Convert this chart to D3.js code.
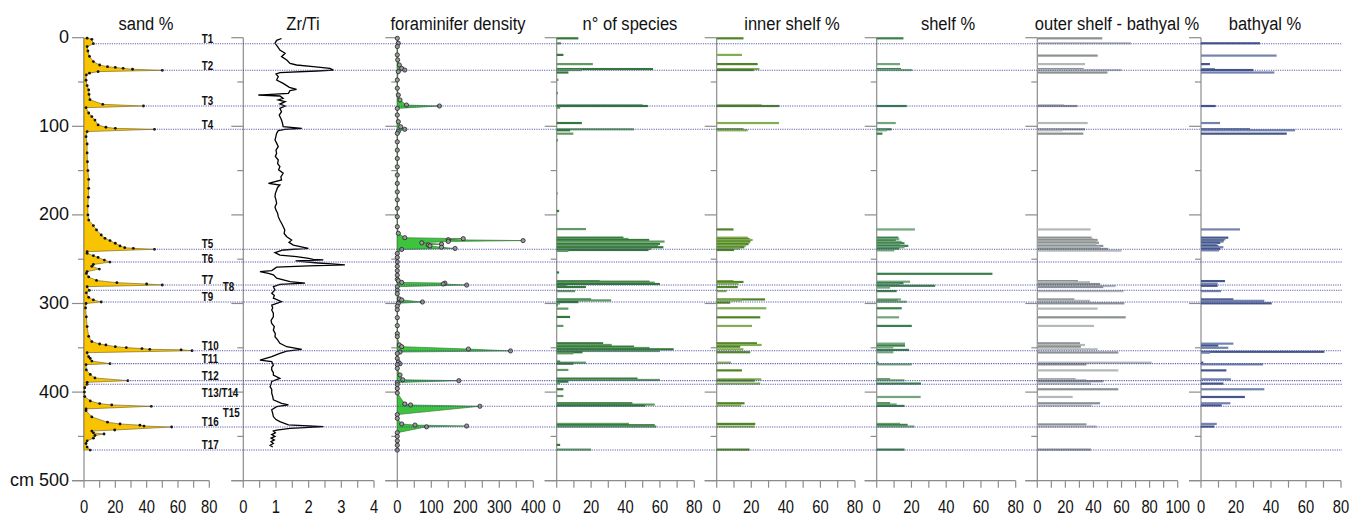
<!DOCTYPE html>
<html><head><meta charset="utf-8">
<script src="https://cdn.jsdelivr.net/npm/d3@7"></script>
<style>
body{margin:0;background:#fff}
svg{display:block}
text{font-family:"Liberation Sans",Arial,sans-serif;fill:#111}
</style>
</head><body>
<svg id="c" width="1354" height="516"></svg>
<script>
// ---------------- DATA (depth in cm, value) ----------------
const depthTicks = [0,100,200,300,400,500];
const tephraNames = ["T1","T2","T3","T4","T5","T6","T7","T8","T9","T10","T11","T12","T13/T14","T15","T16","T17"];
const tephraDepths = [6.8,36.8,77.1,103.4,238.8,253.2,279.1,285.1,298.3,353.3,367.9,387.1,391.2,416,439.4,465.4];

const sand = [[0.5,2],[1.8,5],[6.8,6],[10,2],[15,2.5],[21,3.5],[27,6],[30.8,10],[32.7,15],[33.6,20],[34.6,25],[35.6,31],[36.8,50],[38.3,9],[40,3.5],[42,1.5],[48,1.3],[54,2],[59,3],[64,3.2],[70,3.8],[75.2,12],[77.1,38],[79,1.3],[85,3],[89,5],[93,7],[98.5,9],[101.1,14],[102.3,20],[103.4,45],[106,2],[111.7,1.3],[120,2],[130,2],[140,2.2],[150,2.5],[160,3],[170,3],[180,2.8],[190,2.5],[200,2.5],[205.8,3],[212,6],[217,8],[222.7,11],[226.4,13.4],[229,16.6],[232,20],[235,23],[237,26],[237.7,31.5],[238.8,45],[241.5,2],[243.4,2],[246,6],[248,9],[251,13],[253.2,16.6],[256,6],[258,5],[261.1,9.8],[264,2],[266,1.5],[270,3],[274,8],[276.5,21],[278,40],[279.1,50],[281,2],[285.1,3.4],[288,1.5],[293,3],[296,6],[298.3,11],[300,1.3],[305,1],[315,1.5],[326,2],[337,3],[343,5],[345.7,10],[346.8,14],[348.7,20],[349.8,27],[350.9,37],[351.7,42],[352.3,62],[353.3,69],[355.5,2],[360,3],[362,4],[365,5],[367.9,16.6],[369,1.3],[375,1.5],[380,4],[384,7],[387.1,28],[389,2],[391.2,2],[395,0.5],[400,0.3],[405,0.5],[410,4],[413,10],[414.5,17.7],[416,43],[419,1.3],[421,1.3],[428,5],[434,15],[436,23],[437.3,35.7],[438.3,38.3],[439.4,56],[442.8,19.6],[444,5],[446,6],[447.3,12.8],[449,7],[452,6],[455,2],[458,1.3],[462,2],[465.4,4]];

const zrti = [[0.9,1.17],[3,1.02],[6.3,0.97],[10,1.05],[13.9,1.12],[17.6,1.28],[21.4,1.17],[25.2,1.33],[29,1.43],[30.8,1.63],[32.7,2.14],[34.6,2.65],[36.5,2.76],[37.6,2.24],[39.5,1.12],[41,1.0],[44,1.07],[47.7,1.02],[51.5,1.22],[56,1.41],[58.3,1.63],[59.8,1.43],[62.8,1.38],[64.7,0.46],[65.8,1.12],[68.5,1.22],[70.3,1.07],[72.2,1.28],[74.9,1.12],[77.1,1.28],[79.8,1.12],[83.5,1.17],[87.3,1.10],[92.9,1.17],[96.7,1.2],[100.5,1.22],[102.3,1.79],[103.4,1.27],[104.9,1.07],[107.9,1.02],[111,1.0],[115.5,0.97],[119,1.02],[123,1.07],[127,1.0],[130.5,1.02],[134,0.98],[138,1.07],[142,1.05],[145.6,1.12],[149,1.08],[153,1.22],[157,1.15],[160.6,1.17],[164.4,0.77],[166.3,1.12],[169,1.05],[172,1.02],[176,0.98],[179.5,0.97],[183,1.0],[187,1.02],[191,0.97],[194.6,1.0],[198,1.05],[202,1.07],[206,1.12],[209.5,1.17],[213,1.22],[217,1.27],[221,1.25],[224.6,1.33],[228.4,1.48],[231,1.4],[234,1.53],[237.8,1.99],[239.6,1.22],[242.6,0.97],[245.3,1.12],[247.1,1.63],[249,2.0],[250.1,2.14],[250.8,2.45],[252,1.6],[254,2.2],[256.5,3.11],[257.5,2.0],[259,1.02],[262.8,0.87],[264,0.51],[265.9,0.77],[267.7,0.92],[271.5,1.02],[275.3,1.43],[277,1.89],[278.3,1.12],[281,0.92],[284.7,0.97],[288.5,0.87],[291,0.95],[294,0.92],[298,1.17],[301.8,0.87],[305,0.9],[307.4,0.87],[311,0.92],[315,0.92],[319,0.85],[322.5,0.87],[326,0.95],[330,0.92],[334,0.98],[337.5,0.97],[341,1.05],[345,1.12],[348.8,1.33],[351.8,1.79],[353.7,1.33],[356.3,1.12],[360,0.87],[363.8,0.51],[365.7,0.87],[369.5,0.92],[372,0.87],[375,0.87],[378,0.92],[380.7,0.92],[384.5,1.12],[388,0.87],[391,0.85],[393.8,0.82],[397,0.87],[401.3,0.87],[405,0.9],[408.8,0.92],[412.6,1.17],[414.5,1.38],[416.4,1.02],[420,0.87],[424,0.9],[427.6,0.92],[431,1.0],[433.3,1.12],[437,1.38],[439,2.45],[440.9,1.43],[442.8,1.02],[444,0.92],[446,0.98],[448,0.87],[450,0.97],[452,0.85],[454,0.95],[456,0.85],[458,0.92],[460,0.82],[462,0.9]];

const foram = [[0.7,0],[6.3,3],[10,0],[19.4,0],[25,1],[30.8,6],[34.6,13],[36.5,22],[38.3,3],[47.7,0],[57,0],[64.7,3],[70.3,8],[76,27],[77.1,124],[79.8,0],[87.3,0],[94.8,3],[100.5,10],[103.4,22],[106,3],[108,0],[117.5,0],[126.9,0],[136.3,0],[145.7,0],[155,0],[164.5,0],[174,0],[183,0],[192.6,0],[202,0],[213.3,0],[220.8,3],[225.7,22],[226.8,194],[228,150],[229,370],[230,150],[231.5,72],[233,130],[234,91],[235,96],[236.5,130],[237.9,170],[239,13],[243.5,0],[248,0],[253,0],[258,0],[263,0],[268,0],[272.7,0],[274.3,3],[276.2,13],[277,140],[278,135],[279.2,204],[281,0],[285,0],[289,0],[294.8,6],[296,13],[298.3,74],[299.8,3],[303,0],[307,0],[316,0],[325,0],[334,0],[337.4,0],[346.8,6],[348.7,13],[351.4,209],[353.5,333],[354.8,8],[356.5,0],[362,0],[366,3],[368,8],[369,0],[373.2,0],[380.7,8],[386.1,16],[387.1,181],[389.2,0],[391.6,0],[396,0],[401,0],[413.4,22],[414.5,39],[416,243],[425.4,0],[429.6,0],[436,13],[437.2,52],[438.3,204],[439.2,86],[445.8,0],[450,0],[455,0],[460,0],[465.4,0]];

const species = [[0.7,12.6],[6.3,2.5],[19.4,3.9],[29.8,21],[35.4,56],[36.5,14.6],[39.3,6.8],[47.6,1],[62.6,0.6],[76.4,50],[77.1,53],[79,2],[96.3,14.6],[103.4,45],[104.5,7.8],[108.3,9.7],[115.8,0.6],[175.8,0.6],[195.6,1.4],[216,17],[225.7,38.8],[227.2,41.7],[228.3,53.8],[230.1,62.7],[232.7,60],[234.6,59],[236.5,62],[238.4,55],[239.6,53.4],[240.6,6.8],[265,1.4],[274.7,25],[275.4,54],[276.5,57],[278,60],[280.3,5.8],[281.4,17],[286,10.7],[295.4,20],[296.5,31.7],[298.4,12.6],[299.9,2],[302,0.6],[305.8,6.8],[315.2,7.8],[325.3,3.9],[344.9,27],[346.8,32],[348.7,45],[350.2,54],[351.7,68],[353.6,60],[355,15],[356.2,9.7],[365.6,2],[366.8,17],[367.9,9.7],[375,6.8],[384.8,47],[386.3,60],[388.2,6.8],[390,2],[396.8,3.9],[404.4,3.9],[412.6,44],[414.1,57],[415.2,51.5],[435.9,42],[437.4,57],[438.9,58],[459.6,2],[464.9,20]];

const innerShelf = [[0.7,15.5],[19.4,14.6],[29.8,23.7],[35.4,24.7],[36.5,21.4],[76.4,26],[77.1,36.3],[96.3,36],[103.4,15.5],[104.5,17.9],[216.4,9.7],[225.7,18],[227.2,19],[228.3,20.8],[230.1,19.5],[231.4,19],[233,18.4],[234.6,17],[236.5,16],[238,13.6],[239.6,10],[274.7,9.7],[275.7,15.5],[277.6,12.6],[281.4,12.2],[286,5.8],[295.4,28],[296.5,14.6],[299,7.8],[305.4,28.7],[315.6,25.2],[325.3,20.4],[344.9,23.3],[346.8,26],[348.7,13.6],[351.7,15.5],[355,19.4],[366.8,8.3],[375.5,14.6],[385.6,25.8],[387,22],[390.4,25.2],[412.6,16.1],[415,14.2],[435.9,22.3],[438.9,22],[464.9,19]];

const shelf = [[0.7,15.4],[29.8,13.4],[35.4,14],[36.5,20.5],[77.1,17.3],[96.3,11],[103.4,8.6],[104.5,5.8],[108.3,3.3],[216.4,22],[225.7,12.5],[227.5,13],[229,11],[230.5,14.4],[232,16],[233.5,13.5],[235,18.2],[236.5,16],[238,13],[240,10.2],[266.5,66.6],[275.4,19.2],[277,15.4],[278.5,13],[280,33.6],[282,7.7],[286,11.5],[295.4,14],[296.8,12],[298,17.3],[305.4,14.4],[315.6,12.9],[325.3,20.2],[345.3,16.3],[347.5,16.3],[349.5,9.6],[352.4,18.6],[355,9.6],[366.8,1],[368.7,20.2],[385.6,7.7],[386.7,16],[390.4,25.5],[405.5,25.3],[412.6,7.7],[414,11.5],[415.6,16],[435.9,13.4],[437,17.8],[438.9,21.7],[464.9,16]];

const outerShelfBathyal = [[0.7,46.3],[6.3,66.7],[20.2,43],[29.8,34],[35.4,33],[36.5,60],[39.3,50],[76.4,19],[77.1,28.5],[96.3,35.9],[103.4,34],[104.5,18],[108.3,32.8],[216.4,38],[225.7,38.7],[227.5,40],[228.3,43],[230,42],[231.4,43.9],[233,42],[235,47],[236.5,45],[238.4,50.6],[240.3,60],[274.7,29],[276,37.5],[278,44.7],[280.3,55.8],[281.4,47],[286,61.5],[295.4,26.4],[297,37.5],[299.8,62],[305.8,43],[315.6,63],[325.3,40.4],[344.9,30.4],[346.8,34],[348.7,31],[351.7,43],[355.3,57.7],[366.8,81.5],[368.7,35],[375.5,57.7],[385.6,27.3],[386.7,35],[387.7,47],[390.4,38.2],[396.8,57.7],[405.5,25.2],[412.6,44.7],[415.2,38.7],[436.5,35],[438.9,42.3],[464.9,38.2]];

const bathyal = [[6.3,33.7],[20.2,43.2],[29.8,5.1],[35.4,8],[36.5,29.9],[39.3,41.9],[77.1,8.4],[96.3,10.9],[103.4,28],[104.5,53.7],[108.3,49],[216.4,22.3],[225.7,15.6],[227.5,14],[229,13],[230.1,12.8],[231.5,11],[233,9],[235,10],[236.5,12.8],[238.5,11],[240,10.3],[274.7,13.7],[277.6,9.5],[280,9.5],[286,11.4],[295.4,18.5],[297,36.2],[299.8,40.4],[345.3,18.5],[347.5,9.9],[350,15.6],[354.5,70.5],[355.5,5.1],[366.8,1.3],[368.7,35.4],[375.5,14.5],[385.6,17.1],[390.4,12.8],[396.8,36.2],[405.5,25.1],[412.6,16.8],[415,11.8],[435.9,9],[438.9,7.6]];

// ---------------- LAYOUT ----------------
const svg = d3.select("#c");
svg.append("rect").attr("width",1354).attr("height",516).attr("fill","#fff");
const y = d3.scaleLinear().domain([0,500]).range([37.7,480.7]);
const axisColor = "#8c8c8c";

const panels = [
  {id:"sand", title:"sand %", tx:146, range:[84,209.3], domain:[0,80], labels:[0,20,40,60,80], step:10},
  {id:"zrti", title:"Zr/Ti", tx:303, range:[243.3,374], domain:[0,4], labels:[0,1,2,3,4], step:0.5},
  {id:"foram", title:"foraminifer density", tx:458, range:[397.3,533.3], domain:[0,400], labels:[0,100,200,300,400], step:50},
  {id:"species", title:"n° of species", tx:630, range:[556.7,694.3], domain:[0,80], labels:[0,20,40,60,80], step:10},
  {id:"inner", title:"inner shelf %", tx:792, range:[716.7,855], domain:[0,80], labels:[0,20,40,60,80], step:10},
  {id:"shelf", title:"shelf %", tx:948, range:[876.7,1015.7], domain:[0,80], labels:[0,20,40,60,80], step:10},
  {id:"outer", title:"outer shelf - bathyal %", tx:1117, range:[1037.3,1177.7], domain:[0,100], labels:[0,20,40,60,80,100], step:10},
  {id:"bathyal", title:"bathyal %", tx:1265, range:[1201,1341], domain:[0,80], labels:[0,20,40,60,80], step:10}
];
panels.forEach(p => p.x = d3.scaleLinear().domain(p.domain).range(p.range));
const P = Object.fromEntries(panels.map(p=>[p.id,p]));

// axes for each panel
panels.forEach(p => {
  const g = svg.append("g");
  const x0 = p.x(0);
  // vertical axis
  g.append("line").attr("x1",x0).attr("x2",x0).attr("y1",y(0)).attr("y2",y(500))
    .attr("stroke",axisColor).attr("stroke-width",1.2);
  // depth ticks
  d3.range(0,501,50).forEach(d => {
    const major = d % 100 === 0;
    g.append("line").attr("x1",x0-(major?12:6)).attr("x2",x0).attr("y1",y(d)).attr("y2",y(d))
      .attr("stroke",axisColor).attr("stroke-width",1.2);
  });
  // bottom axis
  g.append("line").attr("x1",x0-12).attr("x2",p.range[1]).attr("y1",y(500)).attr("y2",y(500))
    .attr("stroke",axisColor).attr("stroke-width",1.2);
  const nt = Math.round((p.domain[1]-p.domain[0])/p.step);
  d3.range(0,nt+1).forEach(i => {
    const v = p.domain[0]+i*p.step;
    g.append("line").attr("x1",p.x(v)).attr("x2",p.x(v)).attr("y1",y(500)).attr("y2",y(500)+7)
      .attr("stroke",axisColor).attr("stroke-width",1.2);
  });
  p.labels.forEach(v => {
    g.append("text").attr("transform",`translate(${p.x(v)},513) scale(0.82,1)`)
      .attr("text-anchor","middle").attr("font-size",18).text(v);
  });
  // title
  g.append("text").attr("transform",`translate(${p.tx},29.5) scale(0.87,1)`)
    .attr("text-anchor","middle").attr("font-size",19).text(p.title);
});

// depth labels
depthTicks.forEach(d => {
  svg.append("text").attr("x",69).attr("y",y(d)-1).attr("dy","0.36em")
    .attr("text-anchor","end").attr("font-size",18)
    .text(d===500 ? "cm 500" : d);
});

// ---- sand area ----
const sx = P.sand.x;
svg.append("path").datum(sand)
  .attr("d", d3.area().y(d=>y(d[0])).x0(sx(0)).x1(d=>sx(d[1])))
  .attr("fill","#f8c300").attr("stroke","#6b5a20").attr("stroke-width",0.6);
svg.append("g").selectAll("circle").data(sand).join("circle")
  .attr("cx",d=>sx(d[1])).attr("cy",d=>y(d[0])).attr("r",1.4).attr("fill","#111");

// ---- Zr/Ti line ----
const zx = P.zrti.x;
svg.append("path").datum(zrti)
  .attr("d", d3.line().y(d=>y(d[0])).x(d=>zx(d[1])))
  .attr("fill","none").attr("stroke","#000").attr("stroke-width",1.3);

// ---- foram density ----
const fx = P.foram.x;
svg.append("path").datum(foram)
  .attr("d", d3.area().y(d=>y(d[0])).x0(fx(0)).x1(d=>fx(d[1])))
  .attr("fill","#3cc43c").attr("stroke","#2b6b2b").attr("stroke-width",0.6);
svg.append("g").selectAll("circle").data(foram).join("circle")
  .attr("cx",d=>fx(d[1])).attr("cy",d=>y(d[0])).attr("r",2.1)
  .attr("fill","#9a9a9a").attr("stroke","#222").attr("stroke-width",0.8);

// ---- bar panels ----
function bars(data, p, dark, light) {
  svg.append("g").selectAll("rect").data(data).join("rect")
    .attr("x", p.x(0)).attr("y", d=>y(d[0])-1.1)
    .attr("width", d=>Math.max(0.8, p.x(d[1])-p.x(0))).attr("height",2.2)
    .attr("fill",(d,i)=> i%2 ? light : dark);
}
bars(species, P.species, "#33773a", "#5f9a62");
bars(innerShelf, P.inner, "#4f8426", "#82ad55");
bars(shelf, P.shelf, "#3b7f4a", "#73a67c");
bars(outerShelfBathyal, P.outer, "#8b9191", "#b3b8b8");
bars(bathyal, P.bathyal, "#45568a", "#7383ac");

// ---- tephra lines & labels ----
const sandAt = d => {
  const s = sand.find(e => Math.abs(e[0]-d) < 0.05);
  if (s) return s[1];
  const i = d3.bisector(e=>e[0]).left(sand, d);
  const a = sand[Math.max(0,i-1)], b = sand[Math.min(sand.length-1,i)];
  return a[1] + (b[1]-a[1])*((d-a[0])/((b[0]-a[0])||1));
};
tephraDepths.forEach((d,i) => {
  svg.append("line").attr("x1",sx(sandAt(d))).attr("x2",1342)
    .attr("y1",y(d)).attr("y2",y(d))
    .attr("stroke","#4646a0").attr("stroke-width",1.1)
    .attr("stroke-dasharray","1.2,1.1").attr("opacity",0.85);
});
const shifted = {"T8":[21,0.5], "T15":[21,11], "T13/T14":[0,12.5], "T6":[0,0.5], "T9":[0,-1]};
tephraNames.forEach((n,i) => {
  const off = shifted[n] || [0,-0.8];
  svg.append("text")
    .attr("transform",`translate(${201.7+off[0]},${y(tephraDepths[i])+off[1]}) scale(0.82,1)`)
    .attr("font-size",12).attr("font-weight","bold").text(n);
});
</script>
</body></html>
